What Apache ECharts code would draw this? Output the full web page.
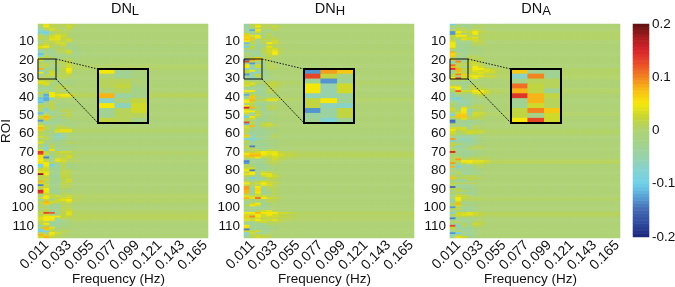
<!DOCTYPE html>
<html><head><meta charset="utf-8">
<style>html,body{margin:0;padding:0;background:#fff}#c{width:675px;height:287px;filter:blur(0.4px)}</style>
<script src="https://cdn.jsdelivr.net/npm/echarts@6/dist/echarts.min.js"></script>
</head><body><div id="c"></div>
<script>
// values are estimates in hundredths; leading frequency bins per ROI (0 = background), then a per-ROI value for the faint stripes beyond
const tickFreq = ['0.0055','0.011','0.0165','0.022','0.0275','0.033','0.0385','0.044','0.0495','0.055','0.0605','0.066','0.0715','0.077','0.0825','0.088','0.0935','0.099','0.1045','0.11','0.1155','0.121','0.1265','0.132','0.1375','0.143','0.1485','0.154','0.1595','0.165'];
const colorStops = ['#1c2479','#2f4a9e','#4468b0','#58a0d4','#6fd0ea','#84d2d0','#97d2ad','#a4d28c','#aed275','#c6d535','#f4e80a','#f8c015','#f2841f','#ea4e28','#d8242a','#a81c1e','#5e0f10'];

const dnL = [
[1,4,2,1,1,2,1,0,0,0],[-2,5,1,1,1,3,1,0,0,0],[-3,2,3,1,0,2,0,0,0,0],[-6,-1,3,2,1,1,0,0,0,0],[-9,-10,-1,1,1,0,0,-1,0,0],
[-3,-8,0,2,2,1,0,0,0,0],[1,-2,3,4,3,0,-1,0,0,0],[2,1,3,4,2,1,0,0,0,0],[1,0,4,4,2,3,0,0,0,0],[-2,1,2,3,1,3,0,0,0,0],
[-1,2,1,3,3,-1,-1,0,0,0],[2,3,1,1,3,-2,-1,0,0,0],[4,5,1,0,1,-2,-2,0,0,0],[2,1,-2,1,1,-3,-2,-1,0,0],[-6,-2,-3,1,1,3,-2,-1,0,0],
[-5,-3,-3,0,1,3,-2,-1,0,0],[-11,-2,-2,-1,-1,1,-2,-1,0,0],[-7,1,-3,-2,-2,-1,-2,-1,0,0],[1,2,1,-2,-1,-1,-1,0,0,0],[5,-3,-1,-1,1,1,0,0,0,0],
[0,-3,-1,1,1,2,0,0,0,0],[1,1,0,1,1,2,0,0,0,0],[1,2,-1,-1,1,3,1,0,0,0],[0,1,-2,-1,1,3,1,0,0,0],[8,-4,-2,-2,2,5,1,0,0,0],
[-7,0,2,-2,2,5,0,0,0,0],[5,-6,3,-1,1,4,0,0,0,0],[-3,1,3,0,1,2,0,0,0,0],[-3,1,1,1,2,1,0,0,0,0],[2,1,-2,-1,1,0,0,0,0,0],
[1,2,1,-2,-1,-1,-1,0,0,0],[4,3,1,-2,-1,-2,-1,0,0,0],[3,4,-1,-2,-1,-2,-1,0,0,0],[-1,2,-2,1,1,-1,0,0,0,0],[-2,-3,-2,1,1,1,0,0,0,0],
[-3,-3,-2,1,1,0,0,0,0,0],[-3,1,-3,0,0,-1,0,0,0,0],[2,-2,5,2,1,0,0,0,0,0],[-3,-12,5,4,5,5,2,1,1,0],[-2,-11,5,3,4,4,1,0,0,0],
[-11,-12,-8,1,1,0,0,0,0,0],[-10,-12,-1,0,-1,0,0,0,0,0],[-11,-3,1,-1,-1,0,0,0,0,0],[-3,-2,2,-2,-2,-1,-1,0,0,0],[2,1,1,-2,-1,-1,-1,0,0,0],
[1,-2,2,-1,-1,-1,0,0,0,0],[1,-9,1,-1,1,1,0,0,0,0],[-2,-4,-3,-2,1,1,0,0,0,0],[-11,-3,-3,-2,-1,1,0,0,0,0],[-2,3,-3,-2,1,2,0,0,0,0],
[3,8,2,-2,-1,1,0,0,0,0],[1,7,-2,-3,-1,0,0,0,0,0],[-13,1,-2,-3,-2,-1,0,0,0,0],[-2,-7,-3,-3,-2,-1,0,0,0,0],[1,-2,-3,-2,-1,-1,-1,0,0,0],
[4,1,-2,1,1,-2,-1,0,0,0],[8,2,-1,1,2,1,0,0,0,0],[7,1,-2,3,4,4,1,0,0,0],[1,-2,-1,4,4,4,1,0,0,0],[2,1,-1,-5,-3,-2,-1,0,0,0],
[1,-2,-2,-6,-4,-1,0,0,0,0],[3,1,-2,-6,-5,-1,0,0,0,0],[-1,2,-3,-5,-3,-1,-1,0,0,0],[2,-2,-3,-3,-2,-1,-1,0,0,0],[4,-1,-2,-2,-1,1,1,0,0,0],
[-2,-3,1,-2,-1,-1,-1,0,0,0],[1,-5,1,-3,-1,-1,-1,0,0,0],[-3,-7,2,-3,-2,-2,-1,0,0,0],[3,-6,6,-3,-2,-1,-1,0,0,0],[14,2,-1,2,3,3,1,0,0,0],
[13,3,-2,1,2,1,0,0,0,0],[5,-3,-3,1,1,3,1,0,0,0],[6,-14,-3,1,1,3,1,0,0,0],[5,1,-3,4,3,1,0,0,0,0],[5,2,-3,4,3,1,1,0,0,0],
[4,5,1,-3,2,-1,0,0,0,0],[-9,5,-9,-3,1,-2,-1,0,0,0],[-8,4,-6,-3,1,-2,-1,0,0,0],[2,3,-3,-3,1,-1,-1,0,0,0],[3,3,-2,-3,1,1,0,0,0,0],
[4,4,-2,-3,2,2,0,0,0,0],[18,5,-2,-3,2,1,0,0,0,0],[1,3,-3,-4,2,2,0,0,0,0],[2,1,-3,-3,2,1,0,0,0,0],[1,3,-2,-3,1,3,0,0,0,0],
[8,1,-2,-3,1,3,0,0,0,0],[3,2,-3,-3,2,1,0,0,0,0],[-14,3,-3,-2,1,1,0,0,0,0],[2,2,-2,-2,1,1,0,0,0,0],[1,5,-2,-3,1,-1,0,0,0,0],
[15,5,-3,-3,-1,-1,0,0,0,0],[14,4,-3,-3,1,-1,0,0,0,0],[1,2,2,-2,1,1,0,0,0,0],[-2,5,2,3,1,3,1,1,0,0],[3,5,1,1,3,3,1,1,0,0],
[-5,2,-3,3,4,5,1,0,0,0],[2,8,3,3,2,4,1,0,0,0],[1,7,2,-2,1,1,0,0,0,0],[-1,1,-3,-3,1,1,0,0,0,0],[1,-1,-3,-3,1,1,0,0,0,0],
[-2,1,-3,-2,1,2,0,0,0,0],[1,2,-4,-3,2,3,1,0,0,0],[2,13,12,-2,1,4,1,0,0,0],[1,3,-3,-2,2,4,1,1,0,0],[3,5,5,5,2,2,1,1,1,0],
[4,5,5,-3,2,1,1,1,0,0],[3,5,4,-4,-2,-1,1,1,0,0],[1,2,-3,-4,-2,-1,0,0,0,0],[2,5,-4,-3,-2,-1,0,0,0,0],[-6,1,-3,-3,-1,-1,0,0,0,0],
[2,8,4,-2,-1,-1,0,0,0,0],[-9,7,2,-2,1,-1,0,0,0,0],[-9,-9,2,1,1,1,0,0,0,0],[2,-2,5,3,1,0,0,0,0,0],[8,3,4,1,1,0,0,0,0,0],[3,8,2,1,0,0,0,0,0,0]
];
const dnLTail = [0,0,0,0,0,0,0,0,0,0,0,0,-.5,-.5,-.5,0,-.5,-.5,0,0,0,0,.5,.5,.5,0,0,0,0,0,-.5,0,0,0,0,0,0,.5,1,1,0,0,0,-.5,-.5,0,0,0,0,0,0,0,-.5,-.5,-.5,0,0,.5,.5,0,-.5,-.5,-.5,-.5,0,0,-.5,-.5,0,.5,.5,0,0,0,0,0,-.5,-.5,-.5,0,0,0,0,0,0,0,0,0,0,0,0,0,.5,.5,.5,.5,.5,0,0,0,0,.5,.5,1,1,1,.5,0,0,-.5,0,0,0,0,0,0];

const dnH = [
[-4,1,3,1,1,0,0,0,0,0],[-5,1,5,1,1,3,1,0,0,0],[-3,-2,2,1,1,1,0,0,0,0],[-4,-12,5,-1,-1,2,0,0,0,0],[-2,-3,3,-2,-1,-1,0,0,0,0],
[3,-2,-3,-1,1,-1,0,0,0,0],[7,4,5,-1,1,0,0,0,0,0],[6,2,5,-1,1,1,0,0,0,0],[7,7,-2,2,1,2,0,0,0,0],[5,1,-2,1,1,3,0,0,0,0],
[-11,2,-2,1,5,3,1,0,0,0],[-2,-2,-3,-2,2,1,0,0,0,0],[-10,2,-3,-2,4,1,0,0,0,0],[1,1,-2,1,3,3,1,0,0,0],[-5,-3,-3,1,3,4,1,0,0,0],
[-3,-3,-4,1,3,5,1,0,0,0],[1,-2,-3,1,2,5,1,0,0,0],[-2,-3,-3,-2,2,1,0,0,0,0],[1,2,7,1,1,0,0,0,0,0],[-13,9,7,1,1,0,0,0,0,0],
[13,2,-2,-1,1,0,0,0,0,0],[-3,-13,-3,-2,1,0,0,0,0,0],[5,-5,3,-2,1,1,0,0,0,0],[5,-5,3,-2,1,1,0,0,0,0],[-6,-5,-4,-2,1,1,0,0,0,0],
[2,5,-3,-3,-1,0,0,0,0,0],[2,-6,-7,-3,-1,0,0,0,0,0],[-13,-4,2,-3,-2,0,0,0,0,0],[-4,-4,2,-2,-2,0,0,0,0,0],[-3,-8,-3,-2,-1,-1,0,0,0,0],
[-2,-3,-3,-2,-1,-1,0,0,0,0],[3,1,1,1,1,2,0,0,0,0],[2,4,1,-1,2,2,1,0,0,0],[4,2,-3,-2,2,2,1,0,0,0],[-2,-3,-3,-3,1,1,0,0,0,0],
[-3,-2,-3,-3,1,1,0,0,0,0],[5,5,-3,-3,1,1,0,0,0,0],[1,-2,-3,-3,1,1,0,0,0,0],[-12,2,-3,-3,-2,-1,0,0,0,0],[-3,7,1,-3,-2,-1,0,0,0,0],
[-2,7,-3,1,3,3,1,0,0,0],[5,8,1,2,4,4,1,0,0,0],[5,2,-2,-2,-1,0,0,0,0,0],[-3,2,-3,-3,-1,0,0,0,0,0],[5,1,-2,-3,1,1,0,0,0,0],
[15,8,1,-3,1,1,0,0,0,0],[3,-2,-2,-3,1,1,0,0,0,0],[5,5,2,-3,-2,-1,0,0,0,0],[3,-3,2,-2,-2,-1,0,0,0,0],[-3,-3,3,-2,-1,0,0,0,0,0],
[-10,5,1,-3,-1,-1,0,0,0,0],[1,3,-3,-3,-1,-1,0,0,0,0],[1,-2,-3,-3,-2,-1,0,0,0,0],[13,2,-3,1,1,-1,0,0,0,0],[-11,1,-3,2,3,1,0,0,0,0],
[3,8,-2,2,2,1,0,0,0,0],[3,-2,-3,-1,-1,-1,0,0,0,0],[1,-2,-3,-3,-1,-1,0,0,0,0],[2,-3,-3,-3,-2,-1,0,0,0,0],[-3,-4,-3,-3,-2,-1,0,0,0,0],
[7,-5,-3,-3,-1,1,0,0,0,0],[3,-6,-2,-3,-1,1,0,0,0,0],[-9,-7,-6,-3,-1,-1,0,0,0,0],[1,-6,-2,-2,-1,-1,0,0,0,0],[1,-3,-2,-3,-2,-1,-1,0,0,0],
[-2,-3,-3,-3,-2,-1,0,0,0,0],[2,-14,-3,-3,-2,-1,0,0,0,0],[1,1,-3,-3,-2,-1,0,0,0,0],[-3,1,1,-2,2,1,0,0,0,0],[2,2,3,5,4,4,2,1,1,1],
[5,7,7,5,4,5,3,2,2,1],[7,8,8,4,3,4,3,2,2,1],[2,3,5,1,2,3,2,1,1,1],[-2,-2,-3,-2,1,3,1,1,0,0],[-14,-3,-3,-2,1,2,1,0,0,0],
[-13,-2,-3,-2,1,1,0,0,0,0],[1,-2,-3,-3,-1,1,0,0,0,0],[1,1,-3,-3,-2,-1,0,0,0,0],[3,3,-2,-3,-2,-1,0,0,0,0],[5,-14,-3,-3,-1,-1,0,0,0,0],
[2,5,-2,3,2,1,0,0,0,0],[4,5,-3,4,4,1,0,0,0,0],[2,1,-3,3,4,3,1,0,0,0],[-3,-9,-4,-3,2,2,0,0,0,0],[-2,-3,-4,-3,1,1,0,0,0,0],
[1,-2,1,3,2,1,0,0,0,0],[5,2,3,5,3,2,1,0,0,0],[2,1,1,4,3,1,0,0,0,0],[9,-3,5,-2,1,1,0,0,0,0],[9,-4,6,-3,1,1,0,0,0,0],
[8,-3,6,-3,-1,1,0,0,0,0],[8,-4,5,-3,-1,1,0,0,0,0],[1,-3,3,-2,-1,1,0,0,0,0],[4,3,2,3,1,1,0,0,0,0],[8,4,11,5,3,2,1,0,0,0],
[1,-2,1,-2,1,1,0,0,0,0],[-4,-2,-3,-2,1,1,0,0,0,0],[-3,3,5,-3,-1,0,0,0,0,0],[1,5,3,-3,-1,0,0,0,0,0],[-2,-3,-3,-3,-1,0,0,0,0,0],
[-1,-2,-3,-2,-1,0,0,0,0,0],[-3,-3,1,3,4,1,0,0,0,0],[5,5,8,5,5,5,3,3,2,1],[3,3,5,3,5,3,2,1,1,1],[7,10,5,3,3,3,2,2,1,1],
[3,2,3,1,2,2,1,1,1,0],[4,3,5,3,3,4,2,1,1,0],[-3,-3,1,3,1,1,1,0,0,0],[-3,-3,-3,-3,1,1,0,0,0,0],[5,-3,-3,-3,-2,-1,0,0,0,0],
[6,-3,-3,-3,-2,-1,0,0,0,0],[-14,-3,-2,-3,-2,-1,0,0,0,0],[3,2,3,-3,-2,0,0,0,0,0],[-7,3,-3,-3,-1,0,0,0,0,0],[-5,1,2,1,1,0,0,0,0,0],[-3,1,3,2,1,0,0,0,0,0]
];
const dnHTail = [0,0,0,0,0,0,0,0,0,0,0,0,0,0,0,.5,0,0,0,0,0,0,0,0,0,0,0,0,0,0,0,.5,.5,0,0,0,0,0,0,0,.5,.5,0,0,0,0,0,0,0,0,0,0,0,0,0,0,0,0,0,0,-.5,-.5,-.5,0,0,0,0,0,0,.5,1,1,.5,0,0,0,0,0,0,0,0,0,0,0,0,0,0,0,0,0,0,0,0,0,0,0,0,0,0,0,0,0,1,.5,.5,.5,.5,0,0,0,0,0,0,0,0,0];

const dnA = [
[-9,-1,-3,-2,-1,0,0,0,0,0],[1,-2,-3,-2,1,1,0,0,0,0],[-5,1,1,-1,-1,0,0,0,0,0],[1,2,1,1,3,1,0,0,0,0],[-13,5,3,2,5,2,1,0,0,0],
[-13,3,-2,2,5,1,0,0,0,0],[2,5,5,1,1,1,0,0,0,0],[1,2,3,3,4,1,0,0,0,0],[1,-1,4,3,3,1,0,0,0,0],[3,-3,-1,-2,3,2,0,0,0,0],
[5,-3,-2,-2,1,1,0,0,0,0],[5,-3,-3,-1,1,1,0,0,0,0],[5,-2,-3,-2,-1,-1,0,0,0,0],[2,-3,-3,-2,-2,-1,0,0,0,0],[-2,-3,-3,-1,-1,-1,0,0,0,0],
[8,-3,-3,-2,-1,-1,0,0,0,0],[6,1,-3,-2,-1,-1,0,0,0,0],[7,-2,-3,1,1,-1,0,0,0,0],[1,-2,-3,1,1,1,0,0,0,0],[7,-3,-3,1,1,1,0,0,0,0],
[-7,10,-3,2,2,1,0,0,0,0],[-2,1,1,2,3,1,0,0,0,0],[11,2,1,1,3,2,0,0,0,0],[8,2,-3,1,5,3,1,0,0,0],[14,8,2,2,5,5,3,2,1,0],
[-3,8,1,2,4,3,4,3,1,0],[-3,3,1,1,3,4,3,3,1,0],[2,10,7,3,3,3,1,1,0,0],[2,-2,3,4,5,4,3,3,1,0],[5,13,3,3,4,1,1,1,0,0],
[1,1,1,-2,-1,0,0,0,0,0],[-2,-3,-3,-2,1,0,0,0,0,0],[-2,-2,-3,-3,-1,0,0,0,0,0],[1,1,-3,1,1,0,0,0,0,0],[5,5,-3,1,1,1,0,0,0,0],
[1,5,-2,1,3,2,2,1,0,0],[1,12,3,3,5,5,3,1,1,0],[-3,2,1,1,4,5,3,1,1,0],[-6,-2,-3,-3,1,2,1,0,0,0],[-3,-3,-3,-3,-1,1,0,0,0,0],
[-8,-10,-3,-3,-2,-1,0,0,0,0],[-4,-5,-4,-4,-2,-1,0,0,0,0],[-2,-4,-5,-3,-2,-1,0,0,0,0],[1,-3,-5,-3,-1,-1,0,0,0,0],[-2,-3,-3,-3,1,1,0,0,0,0],
[2,-3,4,1,1,1,0,0,0,0],[3,-3,5,-5,-2,1,0,0,0,0],[1,2,5,-5,1,1,0,0,0,0],[-3,3,6,-3,3,3,1,0,0,0],[-8,7,7,-2,3,2,1,0,0,0],
[2,7,7,1,2,1,0,0,0,0],[-2,1,4,1,1,1,0,0,0,0],[-15,-3,-2,-3,-2,-1,0,0,0,0],[-14,-3,-3,-3,-2,-1,0,0,0,0],[1,-2,-3,-3,-2,-1,0,0,0,0],
[-2,-2,-3,-2,1,0,0,0,0,0],[3,3,3,-3,1,0,0,0,0,0],[5,2,3,1,2,1,0,0,0,0],[3,-1,2,3,3,3,1,0,0,0],[3,1,1,3,2,1,0,0,0,0],
[1,-3,-3,-3,-2,-1,0,0,0,0],[-2,-4,-4,-4,-3,-1,0,0,0,0],[9,-5,-5,-5,-3,-1,0,0,0,0],[-8,-4,-5,-5,-3,-1,0,0,0,0],[1,-3,-3,-4,-3,-1,0,0,0,0],
[2,1,-3,-3,-2,-1,0,0,0,0],[1,-6,-3,-3,1,1,0,0,0,0],[-2,-3,-3,1,1,1,0,0,0,0],[2,-3,-3,-2,-1,-1,0,0,0,0],[15,-2,-3,-3,-2,-1,0,0,0,0],
[1,-3,-3,-3,-2,-1,0,0,0,0],[-2,-2,-3,-3,-1,-1,0,0,0,0],[1,2,-2,1,1,1,1,0,0,0],[1,9,1,2,2,1,1,0,0,0],[2,2,5,5,4,4,3,1,1,0],
[9,-2,3,4,3,3,2,1,0,0],[-3,-3,-3,-3,1,1,0,0,0,0],[8,-9,-3,-3,-1,1,0,0,0,0],[-4,-3,-3,-3,-1,-1,0,0,0,0],[1,-3,-3,-3,-2,-1,0,0,0,0],
[-3,1,-3,-3,-2,-1,0,0,0,0],[-2,1,-3,-3,-2,-1,0,0,0,0],[1,-2,1,1,1,-1,0,0,0,0],[7,1,1,1,1,1,0,0,0,0],[1,-2,-3,2,1,0,0,0,0,0],
[-3,-3,-3,-3,-2,0,0,0,0,0],[2,1,1,1,1,0,0,0,0,0],[1,-3,-3,-3,-1,0,0,0,0,0],[-15,-3,-3,-3,-1,0,0,0,0,0],[1,1,-3,-3,-2,0,0,0,0,0],
[-2,2,1,-2,-2,0,0,0,0,0],[1,-3,-3,-3,-2,0,0,0,0,0],[-3,2,1,-3,-2,0,0,0,0,0],[-2,3,2,1,-1,0,0,0,0,0],[1,5,2,1,1,1,0,0,0,0],
[-5,5,1,1,1,0,0,0,0,0],[-3,3,-2,-2,-1,0,0,0,0,0],[1,8,-3,-2,-1,0,0,0,0,0],[1,3,1,-2,-1,0,0,0,0,0],[-13,1,-3,-3,-2,0,0,0,0,0],
[1,2,-3,-3,-2,0,0,0,0,0],[-2,-2,-3,-3,-1,0,0,0,0,0],[-8,3,3,4,3,2,1,0,0,0],[1,3,4,4,3,2,1,0,0,0],[-3,1,2,1,1,1,0,0,0,0],
[-14,-2,-3,-2,-1,0,0,0,0,0],[-3,-2,-3,-2,-1,1,0,0,0,0],[1,1,-3,-2,1,1,0,0,0,0],[-3,-3,1,-2,3,2,0,0,0,0],[13,-7,1,-2,2,1,0,0,0,0],
[2,-3,-3,-3,-1,0,0,0,0,0],[1,-4,-4,-3,-1,0,0,0,0,0],[-4,1,-3,-3,-2,0,0,0,0,0],[-13,-10,-2,-3,-2,0,0,0,0,0],[-6,1,-3,-4,-2,0,0,0,0,0],[-3,4,3,-2,-1,0,0,0,0,0]
];
const dnATail = [0,0,0,0,.5,.5,.5,.5,.5,0,0,0,0,0,0,0,0,0,0,0,0,0,0,0,.5,.5,.5,.5,.5,.5,0,0,0,0,0,.5,.5,.5,0,0,0,0,-.5,0,0,0,0,0,.5,.5,0,0,0,0,0,0,0,.5,.5,.5,0,0,-.5,-.5,0,0,0,0,0,0,0,0,0,.5,1,1,0,0,0,0,0,0,0,0,0,0,0,0,0,0,0,0,0,0,.5,.5,0,0,0,0,0,0,1,1,.5,0,0,0,0,0,0,0,0,0,0,0];

const roiLabels = Array.from({length: dnL.length}, (_, i) => String(i + 1));
const panelTitles = ['L', 'H', 'A'];
const panelData = [[dnL, dnLTail], [dnH, dnHTail], [dnA, dnATail]];
const colorbarTicks = [-0.2, -0.1, 0, 0.1, 0.2];
const colorbarSteps = 64;

// layout
const panelLeft = [38, 244, 450], panelW = 170, panelTop = 24, panelH = 214;
const insetLeft = [98, 304, 511], insetW = 50, insetTop = 69, insetH = 54;
const boxW = 18, boxTop = 59, boxH = 20;
const titleX = [120, 325, 531];

const font = '"Liberation Sans", Arial, sans-serif';
const grid = [], xAxis = [], yAxis = [], series = [], title = [], graphic = [];
const tick = {show:true, inside:true, length:3, alignWithLabel:true, lineStyle:{color:'#8a9a70', width:1}};
const xTickShow = i => (i - 1) % 4 === 0;
const yTickShow = i => (i + 1) % 10 === 0;

panelData.forEach(([rows, tail], p) => {
  const g = grid.length;
  grid.push({left:panelLeft[p], top:panelTop, width:panelW, height:panelH, outerBoundsMode:'none'});
  const labelBase = {color:'#111', fontFamily:font, fontSize:13.5};
  const xIdx = xAxis.length, yIdx = yAxis.length;
  xAxis.push({type:'category', gridIndex:g, data:tickFreq, position:'bottom', axisLine:{show:false},
    axisTick:Object.assign({}, tick, {interval:xTickShow}),
    axisLabel:Object.assign({}, labelBase, {fontSize:14, rotate:45, interval:xTickShow, margin:5, hideOverlap:false}),
    name:'Frequency (Hz)', nameLocation:'middle', nameGap:34, nameMoveOverlap:false,
    nameTextStyle:Object.assign({}, labelBase, {padding:[0,9,0,0]})});
  xAxis.push({type:'category', gridIndex:g, data:tickFreq, position:'top', axisLine:{show:false},
    axisTick:Object.assign({}, tick, {interval:xTickShow}), axisLabel:{show:false}});
  yAxis.push({type:'category', gridIndex:g, data:roiLabels, inverse:true, position:'left', axisLine:{show:false},
    axisTick:Object.assign({}, tick, {interval:yTickShow}),
    axisLabel:Object.assign({}, labelBase, {interval:yTickShow, margin:4, align:'right'}),
    name:p === 0 ? 'ROI' : '', nameLocation:'middle', nameGap:25, nameRotate:90, nameMoveOverlap:false,
    nameTextStyle:labelBase});
  yAxis.push({type:'category', gridIndex:g, data:roiLabels, inverse:true, position:'right', axisLine:{show:false},
    axisTick:Object.assign({}, tick, {interval:yTickShow}), axisLabel:{show:false}});

  const cells = [];
  rows.forEach((r, y) => {
    for (let x = 0; x < tickFreq.length; x++) cells.push([x, y, (x < r.length && r[x] !== 0 ? r[x] : tail[y]) / 100]);
  });
  series.push({type:'heatmap', xAxisIndex:xIdx, yAxisIndex:yIdx, data:cells, progressive:0, animation:false, emphasis:{disabled:true}, z:2});

  // zoomed inset: ROI 20-30, first three bins
  const ig = grid.length;
  grid.push({left:insetLeft[p], top:insetTop, width:insetW, height:insetH, z:5, outerBoundsMode:'none'});
  const ix = xAxis.length, iy = yAxis.length;
  const insetRows = rows.slice(19, 30);
  xAxis.push({type:'category', gridIndex:ig, data:tickFreq.slice(0, 3), show:false});
  yAxis.push({type:'category', gridIndex:ig, data:roiLabels.slice(19, 30), inverse:true, show:false});
  const inset = [];
  insetRows.forEach((r, y) => r.slice(0, 3).forEach((v, x) => inset.push([x, y, v / 100])));
  series.push({type:'heatmap', xAxisIndex:ix, yAxisIndex:iy, data:inset, progressive:0, animation:false, emphasis:{disabled:true}, z:5});

  title.push({text:'{a|DN}{b|' + panelTitles[p] + '}', left:titleX[p], top:-5, textAlign:'center',
    textStyle:{rich:{a:{fontFamily:font, fontSize:14.5, fontWeight:'normal', color:'#111', lineHeight:18},
      b:{fontFamily:font, fontSize:13, fontWeight:'normal', color:'#111', verticalAlign:'bottom', lineHeight:18, padding:[11,0,0,0]}}}});

  const bx = panelLeft[p], ir = insetLeft[p];
  graphic.push({type:'rect', z:20, shape:{x:bx, y:boxTop, width:boxW, height:boxH}, style:{fill:null, stroke:'#111', lineWidth:1}});
  graphic.push({type:'rect', z:20, shape:{x:ir, y:insetTop, width:insetW, height:insetH}, style:{fill:null, stroke:'#000', lineWidth:2}});
  graphic.push({type:'line', z:20, shape:{x1:bx + boxW, y1:boxTop, x2:ir, y2:insetTop}, style:{stroke:'#111', lineWidth:1, lineDash:[1.5,1.5]}});
  graphic.push({type:'line', z:20, shape:{x1:bx + boxW, y1:boxTop + boxH, x2:ir, y2:insetTop + insetH}, style:{stroke:'#111', lineWidth:1, lineDash:[1.5,1]}});
});

// colour bar: a heatmap of the colour scale on its own axes
const cbG = grid.length;
grid.push({left:633, top:24, width:16, height:213, outerBoundsMode:'none'});
const cbLevels = Array.from({length: colorbarSteps}, (_, i) => i);
const cbX = xAxis.length, cbY = yAxis.length;
xAxis.push({type:'category', gridIndex:cbG, data:['c'], show:false});
yAxis.push({type:'category', gridIndex:cbG, data:cbLevels, show:false});
yAxis.push({type:'value', gridIndex:cbG, min:-0.2, max:0.2, interval:0.1, position:'right',
  axisLine:{show:false}, axisTick:{show:false}, splitLine:{show:false},
  axisLabel:{color:'#111', fontFamily:font, fontSize:13.5, margin:3, formatter:v => colorbarTicks.includes(+v.toFixed(1)) ? String(+v.toFixed(1)) : ''}});
series.push({type:'heatmap', xAxisIndex:cbX, yAxisIndex:cbY, progressive:0, animation:false, emphasis:{disabled:true},
  data:cbLevels.map(i => [0, i, -0.2 + 0.4 * (i + 0.5) / colorbarSteps])});

const chart = echarts.init(document.getElementById('c'), null, {renderer:'canvas'});
chart.setOption({
  animation:false, backgroundColor:'#fff', title, grid, xAxis, yAxis, series, graphic,
  visualMap:{type:'continuous', show:false, min:-0.2, max:0.2, seriesIndex:[0,1,2,3,4,5,6], inRange:{color:colorStops}}
});
</script></body></html>
